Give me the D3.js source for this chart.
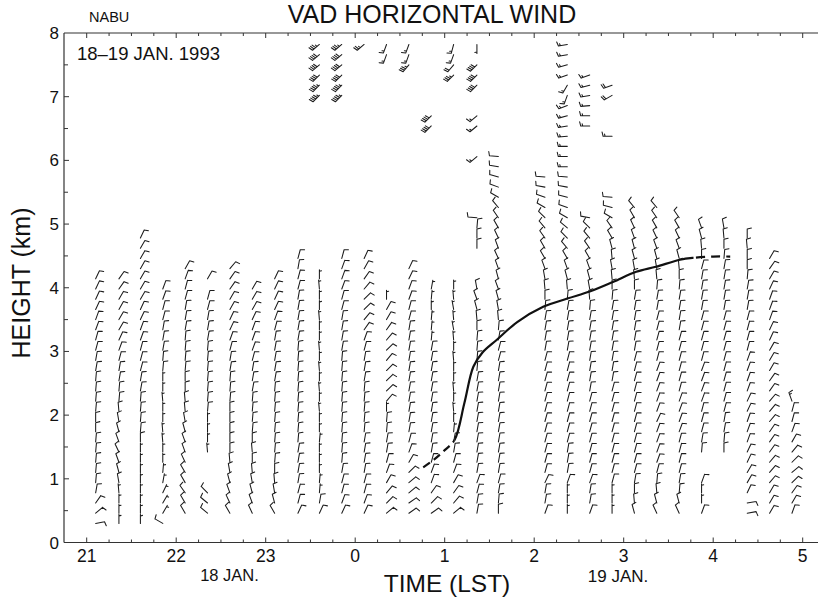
<!DOCTYPE html>
<html>
<head>
<meta charset="utf-8">
<script src="https://cdn.jsdelivr.net/npm/d3@7"></script>
<style>
  body { margin: 0; background: #fff; }
  svg { display: block; }
  text { font-family: "Liberation Sans", Arial, Helvetica, sans-serif; fill: #111; }
</style>
</head>
<body>
<svg id="chart" width="818" height="601"></svg>
<script>
// VAD range-gate heights (km)
const gateHeights = [0.30, 0.46, 0.62, 0.78, 0.94, 1.10, 1.26, 1.42, 1.58, 1.74, 1.90, 2.06, 2.22, 2.38,
  2.54, 2.70, 2.86, 3.02, 3.18, 3.34, 3.50, 3.66, 3.82, 3.98, 4.14, 4.30, 4.46, 4.62, 4.78, 4.94, 5.10,
  5.26, 5.42, 5.58, 5.74, 5.90, 6.06, 6.22, 6.38, 6.54, 6.70, 6.86, 7.02, 7.18, 7.34, 7.50, 7.66, 7.82, 7.98];

// Each profile segment: scan time (h from 00 LST 18 Jan), lowest gate index,
// wind direction (deg, from) and speed (kt) for consecutive gates upward.
const segmentTime = [21.10, 21.36, 21.60, 21.85, 22.10, 22.35, 22.35, 22.35, 22.60, 22.85, 23.10, 23.36,
  23.60, 23.60, 23.85, 23.85, 24.10, 24.10, 24.35, 24.35, 24.60, 24.60, 24.85, 24.85, 25.10, 25.10,
  25.36, 25.36, 25.36, 25.36, 25.36, 25.36, 25.60, 26.12, 26.37, 26.62, 26.62, 26.87, 26.87, 26.87,
  27.12, 27.37, 27.62, 27.87, 27.87, 28.12, 28.38, 28.63, 28.88];

const segmentBaseGate = [0, 0, 0, 0, 1, 1, 7, 24, 1, 1, 1, 1,
  1, 42, 1, 42, 1, 47, 1, 46, 1, 45, 1, 39, 1, 44,
  1, 27, 36, 39, 43, 47, 1, 1, 1, 1, 39, 1, 38, 42,
  1, 1, 1, 1, 7, 7, 1, 1, 1];

const segmentDirection = [
  [80, 50, 35, 10, 5, 5, 5, 5, 5, 0, 0, 5, 5, 5, 5, 10, 10, 15, 15, 20, 20, 25, 25, 25, 25],
  [0, 0, 0, 355, 350, 345, 340, 335, 340, 345, 350, 355, 5, 5, 10, 10, 15, 20, 25, 30, 30, 30, 30, 35, 35],
  [0, 0, 0, 0, 0, 0, 0, 0, 0, 5, 5, 5, 5, 10, 10, 15, 15, 15, 20, 20, 25, 25, 30, 30, 30, 30, 30, 30, 25],
  [300, 30, 30, 25, 10, 5, 0, 0, 355, 355, 0, 0, 355, 0, 0, 5, 5, 10, 10, 10, 15, 15, 20, 20],
  [330, 330, 325, 330, 330, 335, 340, 340, 345, 350, 355, 355, 0, 0, 5, 5, 5, 5, 10, 10, 10, 15, 15, 20, 30],
  [310, 310, 315],
  [355, 0, 0, 0, 5, 5, 5, 5, 5, 5, 5, 10, 10, 10, 15, 15],
  [30],
  [330, 335, 340, 345, 350, 355, 0, 0, 0, 0, 0, 5, 5, 5, 10, 10, 15, 20, 25, 25, 30, 30, 35, 35, 40],
  [335, 340, 345, 350, 355, 0, 355, 0, 5, 5, 5, 5, 10, 10, 10, 15, 20, 20, 20, 25, 30, 30, 30],
  [330, 345, 350, 355, 0, 5, 5, 5, 5, 5, 5, 5, 5, 10, 10, 10, 10, 10, 15, 20, 25, 25, 25, 25],
  [25, 15, 15, 10, 10, 10, 10, 5, 5, 5, 5, 5, 5, 5, 5, 5, 5, 10, 10, 10, 10, 10, 15, 15, 10, 15],
  [25, 10, 5, 5, 0, 0, 0, 5, 0, 0, 355, 0, 355, 0, 355, 0, 355, 0, 0, 355, 0, 0, 355, 0],
  [225, 225, 225, 230, 230, 230],
  [25, 20, 15, 15, 10, 5, 5, 5, 5, 5, 5, 5, 5, 5, 5, 5, 10, 10, 10, 10, 15, 15, 20, 20, 20, 15],
  [225, 225, 225, 230, 230, 230],
  [25, 20, 15, 15, 10, 10, 10, 10, 5, 5, 5, 5, 5, 10, 10, 10, 15, 20, 35, 40, 45, 45, 40, 35, 30, 25],
  [230],
  [50, 45, 40, 30, 20, 15, 10, 10, 5, 5, 0, 40, 45, 45, 45, 40, 45, 40, 35, 30, 30, 0],
  [200, 200],
  [55, 55, 50, 50, 45, 30, 20, 15, 10, 10, 10, 10, 10, 10, 10, 10, 10, 10, 10, 15, 15, 20, 20, 25, 25],
  [220, 200, 200],
  [55, 45, 35, 20, 20, 15, 10, 10, 10, 10, 10, 10, 10, 10, 10, 10, 10, 5, 5, 5, 0, 5, 10],
  [225, 225],
  [50, 40, 35, 30, 20, 15, 10, 10, 5, 0, 355, 0, 355, 0, 0, 355, 0, 355, 350, 355, 350, 355, 0],
  [225, 220, 200, 195],
  [10, 10, 15, 20, 10, 10, 10, 10, 10, 10, 10, 10, 10, 10, 5, 5, 5, 5, 0, 355, 345, 340, 350],
  [0, 0, 5, 275],
  [230],
  [230, 230],
  [225, 225, 225],
  [180],
  [0, 5, 10, 15, 10, 10, 10, 10, 10, 10, 10, 10, 10, 10, 10, 15, 15, 10, 5, 355, 350, 345, 340, 345,
    340, 335, 340, 335, 330, 325, 320, 300, 290, 285, 280, 275],
  [20, 10, 10, 25, 15, 15, 15, 15, 15, 15, 15, 15, 15, 15, 15, 15, 10, 10, 10, 10, 5, 0, 355, 350,
    340, 330, 330, 325, 320, 315, 300, 290, 280, 275],
  [0, 0, 0, 20, 10, 10, 10, 15, 15, 15, 15, 15, 15, 15, 15, 15, 10, 10, 10, 10, 10, 5, 355, 345, 340,
    330, 320, 315, 310, 300, 290, 285, 280, 275, 270, 270, 270, 265, 260, 255, 250, 200, 210, 250, 255, 260, 260],
  [20, 10, 10, 20, 15, 15, 15, 15, 15, 15, 15, 15, 10, 10, 10, 10, 10, 10, 10, 10, 5, 355, 350, 345,
    340, 330, 325, 320, 315, 280],
  [270, 270, 265, 260, 255, 250],
  [0, 0, 0, 15, 15, 15, 15, 15, 15, 15, 15, 15, 15, 10, 10, 10, 10, 10, 10, 10, 10, 5, 0, 355, 350,
    355, 345, 330, 325, 300, 285, 275],
  [270],
  [240, 250],
  [345, 355, 0, 10, 15, 15, 15, 15, 15, 15, 15, 15, 15, 15, 15, 15, 10, 10, 10, 10, 10, 10, 0, 355,
    350, 345, 345, 340, 335, 330, 320],
  [335, 345, 355, 5, 15, 20, 20, 20, 20, 25, 20, 20, 20, 20, 20, 15, 15, 15, 15, 15, 10, 10, 5, 355,
    350, 345, 340, 335, 330, 325, 320],
  [335, 345, 5, 10, 15, 15, 15, 15, 20, 20, 20, 20, 15, 15, 15, 15, 15, 15, 10, 10, 10, 10, 5, 0,
    355, 345, 340, 335, 330, 325],
  [20, 0, 0, 20],
  [5, 10, 15, 15, 15, 20, 20, 20, 20, 15, 15, 15, 15, 15, 10, 10, 10, 10, 15, 0, 355, 345, 340],
  [0, 5, 10, 10, 15, 15, 15, 15, 15, 15, 15, 15, 15, 15, 10, 10, 10, 10, 10, 5, 0, 355, 350],
  [80, 80, 25, 30, 30, 25, 25, 20, 20, 20, 25, 25, 20, 20, 20, 20, 15, 15, 15, 15, 10, 10, 10, 5,
    0, 0, 355, 0],
  [30, 30, 30, 40, 40, 40, 35, 35, 35, 40, 40, 40, 35, 35, 30, 30, 30, 25, 25, 20, 20, 20, 25, 30, 35, 30],
  [20, 30, 35, 45, 50, 45, 40, 30, 20, 15, 15, 340]
];

// Speeds (kt): one value for the whole segment, or one per gate
const segmentSpeed = [
  10, [5, 5, 5, 5, 10, 10, 10, 10, 10, 10, 10, 10, 10, 10, 10, 10, 10, 10, 10, 10, 10, 10, 10, 10, 10],
  [5, 5, 5, 5, 5, 5, 5, 5, 10, 10, 10, 10, 10, 10, 10, 10, 10, 10, 10, 10, 10, 10, 10, 10, 10, 10, 10, 10, 10],
  [10, 5, 5, 5, 5, 5, 5, 5, 5, 5, 5, 5, 5, 5, 5, 10, 10, 10, 10, 10, 10, 10, 10, 10],
  10, 10, [5, 5, 5, 5, 10, 10, 10, 10, 10, 10, 10, 10, 10, 10, 10, 10], 10, 10, 10, 10, 10,
  [10, 10, 5, 5, 5, 5, 5, 5, 5, 5, 5, 5, 5, 5, 5, 5, 5, 5, 5, 5, 5, 5, 5, 5],
  [45, 45, 40, 40, 40, 35],
  10, [45, 45, 40, 40, 40, 35],
  10, 25,
  [10, 10, 10, 10, 10, 10, 10, 10, 10, 10, 5, 10, 10, 10, 10, 10, 10, 10, 10, 10, 10, 5],
  15, 10, [35, 15, 15],
  [10, 10, 10, 10, 10, 10, 10, 10, 10, 10, 10, 10, 10, 10, 10, 10, 10, 5, 5, 5, 5, 5, 5],
  40,
  [10, 10, 10, 10, 10, 10, 10, 10, 5, 5, 5, 5, 5, 5, 5, 5, 5, 5, 5, 5, 5, 5, 5],
  [35, 20, 15, 15],
  10, 10, 15, 15, 40, 5,
  10, 10,
  [5, 5, 5, 10, 10, 10, 10, 10, 10, 10, 10, 10, 10, 10, 10, 10, 10, 10, 10, 10, 10, 10, 10, 10, 10,
    10, 10, 10, 10, 10, 10, 10, 10, 10, 15, 15, 15, 15, 15, 15, 15, 15, 15, 15, 15, 15, 15],
  10, 15,
  [5, 5, 5, 10, 10, 10, 10, 10, 10, 10, 10, 10, 10, 10, 10, 10, 10, 10, 10, 10, 10, 10, 10, 10, 10,
    10, 10, 10, 10, 10, 10, 10],
  15, 20,
  10, 10, 10, [10, 5, 5, 10], 10, 10, 10, 10,
  [10, 10, 10, 10, 10, 10, 10, 10, 10, 10, 10, 15]
];

// Top of the mixed layer (km); dashed before layerSolidFrom and after layerSolidTo
const layerTime = [24.76, 24.88, 25.00, 25.11, 25.22, 25.32, 25.42, 25.58, 25.81, 26.10, 26.37, 26.62,
  26.88, 27.14, 27.36, 27.63, 27.78, 28.00, 28.19];
const layerHeight = [1.18, 1.30, 1.45, 1.61, 2.19, 2.76, 2.98, 3.18, 3.46, 3.70, 3.83, 3.94,
  4.09, 4.25, 4.33, 4.44, 4.47, 4.49, 4.49];
const layerSolidFrom = 25.11, layerSolidTo = 27.78;

const hourTicks = [21, 22, 23, 24, 25, 26, 27, 28, 29];
const hourLabels = ["21", "22", "23", "0", "1", "2", "3", "4", "5"];
const heightTicks = [0, 1, 2, 3, 4, 5, 6, 7, 8];

const svg = d3.select("#chart");
const x = d3.scaleLinear().domain([21, 29]).range([86.7, 802.7]);
const y = d3.scaleLinear().domain([0, 8]).range([542.5, 33]);
const xLeft = 64, xRight = 818;

const ink = "#1c1c1c";

// frame
const frame = svg.append("g").attr("stroke", "#333").attr("stroke-width", 1.2).attr("fill", "none");
frame.append("line").attr("x1", xLeft).attr("x2", xLeft).attr("y1", y(8)).attr("y2", y(0));
frame.append("line").attr("x1", xLeft).attr("x2", xRight).attr("y1", y(0)).attr("y2", y(0));
frame.append("line").attr("x1", xLeft).attr("x2", xRight).attr("y1", y(8)).attr("y2", y(8));

// axis ticks
const minorX = d3.range(20.75, 29.26, 0.25);
const tickG = svg.append("g").attr("stroke", "#333").attr("stroke-width", 1);
minorX.forEach(t => {
  const xx = x(t);
  if (xx <= xLeft + 1 || xx > xRight) return;
  const major = Math.abs(t - Math.round(t)) < 1e-6;
  const len = major ? 5 : 3;
  tickG.append("line").attr("x1", xx).attr("x2", xx).attr("y1", y(0)).attr("y2", y(0) - len);
  tickG.append("line").attr("x1", xx).attr("x2", xx).attr("y1", y(8)).attr("y2", y(8) + len);
});
d3.range(0.5, 8, 0.5).forEach(h => {
  const major = Math.abs(h - Math.round(h)) < 1e-6;
  tickG.append("line").attr("x1", xLeft).attr("x2", xLeft + (major ? 5 : 4))
    .attr("y1", y(h)).attr("y2", y(h));
});

// tick labels
svg.append("g").selectAll("text").data(heightTicks).join("text")
  .attr("x", 59).attr("y", d => y(d) + 6).attr("text-anchor", "end")
  .attr("font-size", 17).text(d => d);
svg.append("g").selectAll("text").data(hourTicks).join("text")
  .attr("x", d => x(d)).attr("y", 562).attr("text-anchor", "middle")
  .attr("font-size", 17.5).text((d, i) => hourLabels[i]);

// titles and annotations
svg.append("text").attr("x", 432).attr("y", 23).attr("text-anchor", "middle")
  .attr("font-size", 25).text("VAD HORIZONTAL WIND");
svg.append("text").attr("x", 89).attr("y", 21.5).attr("font-size", 14.5).text("NABU");
svg.append("text").attr("x", 77).attr("y", 59.5).attr("font-size", 18.5).text("18\u201319 JAN. 1993");
svg.append("text").attr("x", 229.5).attr("y", 581).attr("text-anchor", "middle")
  .attr("font-size", 16.5).text("18 JAN.");
svg.append("text").attr("x", 618).attr("y", 582).attr("text-anchor", "middle")
  .attr("font-size", 17).text("19 JAN.");
svg.append("text").attr("x", 447).attr("y", 592).attr("text-anchor", "middle")
  .attr("font-size", 24.5).text("TIME (LST)");
svg.append("text").attr("transform", "translate(30,283) rotate(-90)").attr("text-anchor", "middle")
  .attr("font-size", 25).text("HEIGHT (km)");

// wind barbs: shaft points toward the direction the wind blows from,
// feathers on the clockwise side (full = 10 kt, half = 5 kt, pennant = 50 kt)
function barbPath(px, py, dir, spd) {
  const a = dir * Math.PI / 180;
  const ux = Math.sin(a), uy = -Math.cos(a);
  const vx = Math.cos(a), vy = Math.sin(a);
  const L = 9, F = 4.2, tilt = 0.25;
  const tx = px + ux * L, ty = py + uy * L;
  const p = d3.path();
  p.moveTo(px, py);
  p.lineTo(tx, ty);
  let rem = Math.round(spd / 5) * 5;
  let pos = 0;
  while (rem >= 50) {
    const bx = tx - ux * pos, by = ty - uy * pos;
    p.moveTo(bx, by);
    p.lineTo(bx + vx * F, by + vy * F);
    p.lineTo(bx - ux * 2.4, by - uy * 2.4);
    p.closePath();
    pos += 3.2; rem -= 50;
  }
  while (rem >= 10) {
    const bx = tx - ux * pos, by = ty - uy * pos;
    p.moveTo(bx, by);
    p.lineTo(bx + vx * F + ux * F * tilt, by + vy * F + uy * F * tilt);
    pos += 2; rem -= 10;
  }
  if (rem >= 5) {
    if (pos === 0) pos = 1.5;
    const bx = tx - ux * pos, by = ty - uy * pos;
    p.moveTo(bx, by);
    p.lineTo(bx + vx * F * 0.5 + ux * F * 0.5 * tilt, by + vy * F * 0.5 + uy * F * 0.5 * tilt);
  }
  return p.toString();
}

const barbs = [];
segmentDirection.forEach((dirs, s) => {
  const spd = segmentSpeed[s];
  dirs.forEach((d, i) => {
    barbs.push({
      t: segmentTime[s],
      h: gateHeights[segmentBaseGate[s] + i],
      dir: d,
      spd: Array.isArray(spd) ? spd[i] : spd
    });
  });
});

svg.append("g").attr("stroke", ink).attr("stroke-width", 1.05).attr("fill", ink)
  .attr("stroke-linecap", "round").attr("stroke-linejoin", "round")
  .selectAll("path").data(barbs).join("path")
  .attr("d", b => barbPath(x(b.t), y(b.h), b.dir, b.spd));

// mixed-layer top: one smooth curve, shown dashed / solid / dashed by clipping in time
const layerPts = layerTime.map((t, i) => [t, layerHeight[i]]);
const line = d3.line().x(d => x(d[0])).y(d => y(d[1])).curve(d3.curveCatmullRom.alpha(0.5));
const layerD = line(layerPts);
const defs = svg.append("defs");
const clips = [
  ["clipA", x(20.5), x(layerSolidFrom)],
  ["clipB", x(layerSolidFrom), x(layerSolidTo)],
  ["clipC", x(layerSolidTo), x(30)]
];
clips.forEach(([id, x0, x1]) => {
  defs.append("clipPath").attr("id", id).append("rect")
    .attr("x", x0).attr("y", 0).attr("width", x1 - x0).attr("height", 601);
});
const lg = svg.append("g").attr("fill", "none").attr("stroke", "#111").attr("stroke-width", 2.2);
lg.append("path").attr("d", layerD).attr("clip-path", "url(#clipA)").attr("stroke-dasharray", "8,5");
lg.append("path").attr("d", layerD).attr("clip-path", "url(#clipB)");
lg.append("path").attr("d", layerD).attr("clip-path", "url(#clipC)")
  .attr("stroke-dasharray", "9,6").attr("stroke-dashoffset", 3);
</script>
</body>
</html>
